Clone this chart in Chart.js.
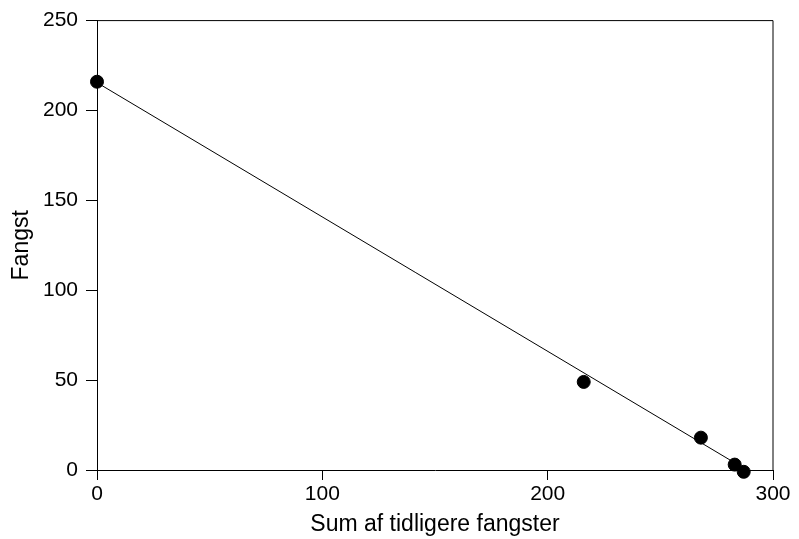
<!DOCTYPE html>
<html lang="en">
<head>
    <meta charset="UTF-8">
    <title>Fangst</title>
    <script src="https://cdn.jsdelivr.net/npm/chart.js@4/dist/chart.umd.min.js"></script>
    <style>
        html, body { margin: 0; padding: 0; background: #fff; }
        #wrap { width: 799px; height: 539px; }
    </style>
</head>
<body>
    <div id="wrap"><canvas id="chartCanvas" width="799" height="539"></canvas></div>

    <script>
        // observed catches
        var sumPrevious = [0, 216, 268, 283, 287];
        var catches = [216, 49, 18, 3, -1];
        // fitted line end points
        var fitX = [0, 283];
        var fitY = [215.5, 4];
        var xTicks = [0, 100, 200, 300];
        var yTicks = [0, 50, 100, 150, 200, 250];

        var font = "'Liberation Sans', Arial, sans-serif";

        // draws the top and right frame lines
        var frame = {
            id: 'frame',
            afterDraw: function(chart) {
                var a = chart.chartArea;
                var c = chart.ctx;
                c.save();
                c.strokeStyle = '#000';
                c.lineWidth = 1;
                c.beginPath();
                c.moveTo(a.left, a.top);
                c.lineTo(a.right, a.top);
                c.lineTo(a.right, a.bottom);
                c.stroke();
                c.restore();
            }
        };

        const ctx = document.getElementById('chartCanvas').getContext('2d');
        const chart = new Chart(ctx, {
            type: 'scatter',
            data: {
                datasets: [
                    {
                        type: 'line',
                        data: fitX.map(function(x, i) { return {x: x, y: fitY[i]}; }),
                        borderColor: '#000',
                        borderWidth: 1,
                        pointRadius: 0,
                        fill: false,
                        clip: false
                    },
                    {
                        data: sumPrevious.map(function(x, i) { return {x: x, y: catches[i]}; }),
                        backgroundColor: '#000',
                        borderColor: '#000',
                        borderWidth: 1,
                        pointRadius: 6.5,
                        clip: false
                    }
                ]
            },
            plugins: [frame],
            options: {
                responsive: false,
                animation: false,
                layout: { padding: { top: 19, right: 26, left: 0, bottom: 0 } },
                plugins: {
                    legend: { display: false },
                    tooltip: { enabled: false }
                },
                scales: {
                    x: {
                        type: 'linear',
                        min: 0,
                        max: 300,
                        afterBuildTicks: function(s) { s.ticks = xTicks.map(function(v) { return {value: v}; }); },
                        afterFit: function(s) { s.height = 69; },
                        grid: { drawOnChartArea: false, tickLength: 10, tickColor: '#000', tickWidth: 1 },
                        border: { color: '#000', width: 1 },
                        ticks: { color: '#000', font: { family: font, size: 21 }, padding: 2, maxRotation: 0 },
                        title: { display: true, text: 'Sum af tidligere fangster', color: '#000', font: { family: font, size: 23 }, padding: { top: 2, bottom: 1 } }
                    },
                    y: {
                        type: 'linear',
                        min: 0,
                        max: 250,
                        afterBuildTicks: function(s) { s.ticks = yTicks.map(function(v) { return {value: v}; }); },
                        afterFit: function(s) { s.width = 97; },
                        grid: { drawOnChartArea: false, tickLength: 11, tickColor: '#000', tickWidth: 1 },
                        border: { color: '#000', width: 1 },
                        ticks: { color: '#000', font: { family: font, size: 21 }, padding: 8 },
                        title: { display: true, text: 'Fangst', color: '#000', font: { family: font, size: 23 }, padding: { top: 8, bottom: 0 } }
                    }
                }
            }
        });
    </script>
</body>
</html>
